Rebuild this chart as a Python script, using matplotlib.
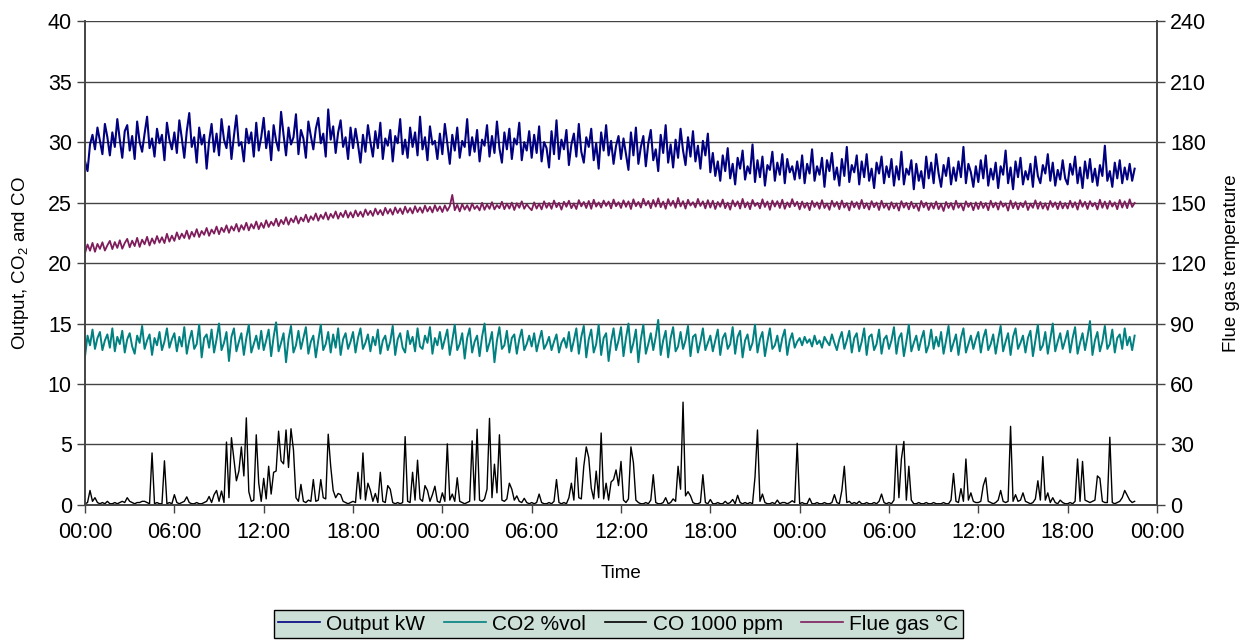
import matplotlib
matplotlib.use("Agg")
from matplotlib import pyplot as plt
import numpy as np

plt.rcParams['font.family'] = ['Liberation Sans', 'DejaVu Sans']
plt.rcParams['mathtext.fontset'] = 'custom'
plt.rcParams['mathtext.rm'] = 'Liberation Sans'
plt.rcParams['mathtext.it'] = 'Liberation Sans:italic'

# one logged value every 10 minutes, rows of 6 hours
SAMPLE_MIN = 10

output_kw = sum([
    [28.4, 27.6, 29.8, 30.6, 29.4, 31.2, 30.1, 29.0, 31.5, 30.4, 28.9, 30.8, 29.6, 31.9, 30.2, 28.7, 30.9, 31.4,
     29.3, 30.5, 28.6, 31.7, 30.0, 29.2, 30.7, 32.1, 29.5, 30.3, 28.8, 31.1, 29.9, 30.6, 28.5, 31.6, 30.2, 29.4],
    [30.8, 29.1, 31.8, 30.3, 28.7, 30.9, 32.4, 29.6, 30.4, 28.3, 31.2, 29.8, 30.6, 27.8, 30.1, 31.5, 29.2, 30.7,
     28.9, 31.9, 30.2, 29.5, 31.3, 28.6, 30.5, 32.2, 29.7, 30.0, 28.4, 31.1, 29.9, 30.8, 28.8, 31.6, 29.3, 30.4],
    [32.0, 29.5, 30.9, 28.5, 31.4, 30.1, 29.3, 32.5, 30.6, 28.9, 31.2, 29.8, 30.4, 32.3, 29.0, 31.0, 30.3, 28.7,
     31.7, 30.5, 29.4, 31.1, 32.0, 29.9, 30.7, 28.8, 32.7, 30.2, 31.3, 29.1, 30.8, 31.8, 29.6, 30.4, 28.6, 31.2],
    [29.5, 31.1, 29.8, 28.3, 30.6, 29.2, 31.4, 30.0, 28.8, 30.9, 29.5, 31.6, 28.6, 30.3, 29.7, 31.0, 28.4, 30.5,
     29.9, 31.9, 29.0, 30.2, 28.7, 31.2, 29.6, 30.8, 28.9, 32.1, 29.4, 30.4, 28.5, 31.3, 29.8, 30.1, 28.6, 30.7],
    [29.0, 31.5, 29.9, 28.2, 30.6, 29.3, 31.2, 28.7, 30.1, 29.6, 31.9, 28.9, 30.4, 29.2, 31.0, 28.4, 30.2, 29.7,
     31.4, 28.8, 30.5, 29.1, 31.7, 29.5, 28.3, 30.8, 29.4, 31.1, 28.6, 30.3, 29.8, 31.6, 28.5, 30.0, 29.3, 30.9],
    [28.7, 30.6, 29.1, 31.3, 28.4, 30.0, 29.5, 27.9, 30.9, 29.0, 31.8, 28.6, 30.2, 29.4, 31.0, 28.1, 29.8, 30.7,
     28.8, 31.5, 29.2, 28.3, 30.4, 29.6, 31.1, 28.5, 29.9, 27.8, 30.8, 29.3, 31.4, 28.9, 30.1, 28.2, 29.7, 30.5],
    [28.6, 30.3, 29.0, 27.7, 30.8, 28.9, 31.2, 28.2, 29.6, 30.5, 28.0, 29.9, 31.0, 28.5, 29.4, 27.6, 30.6, 29.1,
     31.4, 28.3, 29.8, 27.9, 30.2, 28.7, 31.1, 29.3, 28.1, 30.4, 28.8, 30.9, 28.4, 29.7, 27.8, 30.1, 28.9, 30.7],
    [27.5, 29.1, 27.2, 28.4, 26.8, 28.9, 27.6, 29.5, 27.0, 28.2, 26.5, 28.7, 27.8, 29.3, 26.9, 28.0, 27.4, 29.8,
     26.7, 28.5, 27.1, 28.8, 26.4, 28.1, 27.7, 29.2, 26.8, 28.3, 27.3, 29.0, 26.6, 28.6, 27.5, 28.0, 26.9, 28.4],
    [27.0, 28.9, 26.6, 28.2, 27.4, 29.4, 26.8, 28.0, 27.3, 28.7, 26.3, 28.5, 27.6, 29.1, 26.9, 27.9, 26.4, 28.6,
     27.2, 29.6, 26.7, 28.1, 27.5, 28.9, 26.5, 28.4, 27.1, 29.0, 26.8, 27.8, 26.2, 28.3, 27.4, 28.8, 26.6, 28.0],
    [27.1, 28.6, 26.4, 28.0, 26.9, 29.2, 26.5, 27.8, 27.3, 28.5, 26.1, 28.2, 26.8, 27.6, 26.2, 28.8, 27.0, 28.3,
     26.6, 29.0, 27.4, 26.3, 28.1, 27.2, 28.7, 26.5, 27.9, 26.8, 28.4, 27.1, 29.6, 26.6, 28.2, 27.5, 26.3, 28.0],
    [26.7, 28.5, 27.0, 28.9, 26.4, 27.8, 26.9, 28.3, 26.2, 28.0, 27.3, 29.3, 26.6, 27.9, 26.1, 28.4, 27.1, 28.7,
     26.5, 27.6, 26.9, 28.2, 26.3, 28.8, 27.2, 26.6, 28.1, 27.4, 29.0, 26.8, 28.3, 26.4, 27.7, 26.9, 28.5, 27.0],
    [26.5, 28.2, 27.3, 28.8, 26.6, 27.9, 26.2, 28.4, 27.0, 28.6, 26.7, 27.8, 26.4, 28.1, 27.2, 29.7, 26.8, 27.6,
     26.3, 28.3, 27.0, 28.5, 26.6, 27.9, 26.9, 28.2, 26.8, 27.8],
], [])

co2_vol = sum([
    [12.3, 14.0, 13.2, 14.5, 12.9, 13.8, 14.3, 12.8, 13.6, 14.1, 13.0, 14.6, 12.7, 13.9, 13.3, 14.4, 12.6, 13.7,
     14.2, 13.1, 12.5, 14.0, 13.4, 14.8, 12.9, 13.6, 14.1, 12.4, 13.8, 13.2, 14.3, 12.8, 13.5, 14.6, 13.0, 13.7],
    [14.2, 12.7, 13.9, 13.1, 14.7, 12.5, 13.6, 14.4, 12.9, 13.3, 14.9, 12.2, 13.8, 14.1, 13.0, 14.5, 12.6, 13.7,
     15.0, 12.8, 13.4, 14.3, 11.9, 13.9, 14.6, 12.7, 13.5, 14.2, 12.4, 13.8, 14.9, 12.6, 13.3, 14.0, 12.9, 14.4],
    [12.8, 13.6, 14.5, 12.3, 13.9, 15.1, 12.7, 13.4, 14.2, 11.8, 13.7, 14.8, 12.6, 13.2, 14.4, 12.9, 13.8, 14.7,
     12.5, 13.5, 14.0, 12.2, 13.6, 14.9, 12.8, 13.3, 14.3, 12.6, 14.1, 13.0, 14.6, 12.4, 13.7, 14.2, 12.9, 13.5],
    [14.3, 12.6, 13.8, 14.6, 12.9, 13.4, 14.1, 12.7, 13.9, 13.2, 14.5, 12.5, 13.6, 14.0, 12.8, 13.5, 14.8, 12.4,
     13.7, 14.2, 13.0, 12.6, 14.4, 13.3, 13.9, 12.7, 14.6, 13.1, 12.9, 14.0, 13.4, 14.7, 12.5, 13.8, 13.2, 14.3],
    [12.9, 13.7, 14.5, 12.4, 13.6, 14.9, 12.8, 13.3, 14.2, 12.1, 13.8, 14.6, 12.6, 13.5, 14.0, 12.3, 13.9, 15.0,
     12.7, 13.4, 14.3, 11.8, 13.6, 14.7, 12.9, 13.2, 14.4, 12.6, 13.8, 14.1, 12.5, 13.7, 14.5, 12.8, 13.3, 14.0],
    [13.1, 14.2, 12.7, 13.6, 14.4, 12.9, 13.3, 13.9, 12.8, 13.5, 14.1, 12.6, 13.4, 13.8, 13.0, 14.3, 12.7, 13.6,
     14.6, 12.5, 13.9, 14.8, 12.2, 13.7, 14.5, 12.6, 13.3, 14.9, 12.4, 13.8, 14.2, 11.9, 13.5, 14.6, 12.8, 13.6],
    [14.7, 12.3, 13.8, 15.0, 12.6, 13.4, 14.5, 11.8, 13.7, 14.9, 12.5, 13.3, 14.2, 12.8, 13.9, 15.3, 12.4, 13.6,
     14.4, 12.2, 13.8, 14.7, 12.7, 13.1, 14.3, 12.9, 13.6, 14.8, 12.3, 13.9, 14.1, 12.6, 13.5, 14.6, 12.8, 13.4],
    [14.0, 12.7, 13.6, 14.5, 12.4, 13.8, 14.2, 12.9, 13.3, 14.7, 12.5, 13.9, 14.4, 12.2, 13.6, 14.1, 12.8, 13.4,
     14.9, 12.6, 13.7, 14.3, 12.3, 13.5, 14.6, 12.9, 13.2, 14.0, 12.7, 13.8, 14.5, 12.4, 13.6, 14.2, 13.0, 13.5],
    [13.8, 13.2, 13.9, 13.4, 13.7, 13.1, 14.0, 13.3, 13.6, 13.0, 13.9, 13.5, 13.2, 14.1, 13.4, 12.8, 13.7, 14.3,
     12.9, 13.6, 14.4, 12.6, 13.8, 14.2, 12.7, 13.5, 14.6, 12.4, 13.9, 14.1, 12.8, 13.3, 14.5, 12.5, 13.7, 14.0],
    [12.9, 13.6, 14.7, 12.5, 13.8, 14.2, 12.3, 13.5, 14.9, 12.7, 13.4, 14.0, 12.8, 13.7, 14.4, 12.6, 13.2, 14.5,
     12.9, 13.9, 13.1, 14.3, 12.5, 13.6, 14.8, 12.7, 13.4, 14.1, 12.4, 13.8, 14.6, 12.6, 13.3, 14.0, 12.9, 13.7],
    [14.3, 12.6, 13.8, 14.5, 12.8, 13.3, 14.1, 12.5, 13.7, 14.8, 12.7, 13.5, 14.2, 12.4, 13.9, 14.6, 12.9, 13.4,
     14.0, 12.6, 13.8, 14.4, 12.3, 13.6, 14.9, 12.8, 13.2, 14.3, 12.5, 13.7, 15.0, 12.7, 13.5, 14.2, 12.9, 13.6],
    [14.4, 12.6, 13.8, 14.7, 12.5, 13.4, 14.2, 12.8, 13.9, 15.2, 12.4, 13.6, 14.3, 12.7, 13.5, 14.8, 12.9, 13.3,
     14.5, 12.6, 13.8, 14.1, 12.9, 14.6, 13.2, 13.9, 12.8, 14.0],
], [])

co_1000ppm = sum([
    [0.1, 0.2, 1.2, 0.3, 0.6, 0.2, 0.1, 0.2, 0.1, 0.3, 0.1, 0.1, 0.2, 0.1, 0.2, 0.3, 0.2, 0.6,
     0.3, 0.2, 0.1, 0.2, 0.2, 0.3, 0.3, 0.2, 0.1, 4.3, 0.1, 0.2, 0.1, 0.1, 3.65, 0.1, 0.2, 0.1],
    [0.85, 0.2, 0.1, 0.2, 0.3, 0.67, 0.2, 0.1, 0.1, 0.2, 0.1, 0.1, 0.2, 0.3, 0.7, 0.2, 0.85, 1.2,
     0.3, 1.15, 0.2, 5.2, 0.6, 5.56, 3.8, 2.0, 2.8, 4.8, 2.4, 7.2, 1.1, 0.3, 0.4, 5.8, 1.8, 0.3],
    [2.2, 0.5, 3.2, 0.9, 2.7, 2.8, 6.1, 3.65, 3.4, 6.2, 3.1, 6.3, 4.55, 0.6, 0.3, 1.7, 0.3, 0.2,
     0.4, 0.3, 2.1, 0.3, 0.4, 2.1, 0.6, 0.5, 5.85, 3.2, 1.2, 0.6, 0.95, 0.85, 0.3, 0.2, 0.1, 0.2],
    [0.3, 0.2, 2.7, 0.5, 4.3, 0.4, 1.8, 1.2, 0.3, 0.95, 0.2, 2.7, 0.3, 0.2, 1.6, 1.3, 0.2, 0.1,
     0.2, 0.1, 0.2, 5.65, 0.3, 0.2, 2.7, 0.4, 3.7, 0.5, 0.3, 1.6, 1.2, 0.3, 0.85, 1.55, 0.3, 0.2],
    [1.0, 0.3, 5.05, 0.4, 0.9, 0.3, 2.25, 0.3, 0.2, 0.1, 0.2, 0.3, 5.3, 0.4, 6.26, 0.4, 0.3, 0.5,
     1.3, 7.16, 0.6, 3.37, 1.0, 5.8, 0.4, 0.3, 0.5, 1.8, 1.3, 0.4, 0.75, 0.3, 0.2, 0.55, 0.2, 0.1],
    [0.2, 0.1, 0.2, 0.9, 0.2, 0.1, 0.1, 0.2, 0.1, 0.3, 2.1, 0.2, 0.1, 0.2, 0.1, 0.6, 1.8, 0.4,
     3.9, 0.6, 0.5, 3.2, 4.8, 3.9, 1.4, 0.5, 2.8, 0.6, 5.95, 0.5, 1.8, 0.4, 1.9, 2.1, 2.9, 1.6],
    [3.6, 0.4, 0.2, 0.5, 4.8, 3.5, 0.4, 0.2, 0.1, 0.1, 0.2, 0.1, 0.4, 2.5, 0.2, 0.1, 0.1, 0.2,
     0.6, 0.1, 0.2, 0.5, 0.3, 3.2, 1.3, 8.5, 0.75, 1.1, 0.75, 0.2, 0.1, 0.1, 0.2, 2.5, 0.2, 0.1],
    [0.45, 0.1, 0.1, 0.2, 0.1, 0.1, 0.3, 0.1, 0.2, 0.45, 0.1, 0.8, 0.2, 0.1, 0.2, 0.1, 0.2, 0.1,
     2.3, 6.2, 0.3, 0.9, 0.2, 0.1, 0.1, 0.2, 0.1, 0.4, 0.1, 0.2, 0.2, 0.1, 0.2, 0.35, 0.2, 5.1],
    [0.1, 0.2, 0.1, 0.1, 0.55, 0.1, 0.1, 0.2, 0.1, 0.1, 0.2, 0.1, 0.1, 0.2, 0.85, 0.2, 0.1, 1.2,
     3.2, 0.2, 0.3, 0.1, 0.2, 0.1, 0.3, 0.1, 0.1, 0.2, 0.1, 0.1, 0.2, 0.1, 0.3, 0.9, 0.2, 0.1],
    [0.2, 0.1, 0.4, 4.9, 0.6, 3.8, 5.25, 0.4, 3.2, 0.4, 0.1, 0.1, 0.2, 0.1, 0.1, 0.2, 0.1, 0.1,
     0.2, 0.1, 0.1, 0.1, 0.2, 0.1, 0.1, 0.4, 2.6, 0.3, 0.2, 1.35, 0.3, 3.8, 0.4, 1.0, 0.3, 0.2],
    [0.2, 0.3, 1.6, 2.25, 0.3, 0.2, 0.1, 0.2, 0.4, 1.2, 0.3, 0.2, 0.3, 6.5, 0.3, 0.85, 0.3, 0.4,
     1.0, 0.3, 0.2, 0.1, 0.2, 0.5, 2.0, 0.4, 4.0, 0.4, 1.0, 0.2, 0.6, 0.2, 0.1, 0.4, 0.2, 0.1],
    [0.1, 0.2, 0.1, 0.3, 3.8, 0.3, 3.6, 0.4, 0.3, 0.2, 0.3, 0.4, 2.4, 2.2, 0.3, 0.2, 0.2, 5.6,
     0.2, 0.1, 0.2, 0.3, 0.6, 1.2, 0.8, 0.4, 0.2, 0.3],
], [])

flue_gas_c = sum([
    [125.0, 129.2, 126.1, 130.0, 125.6, 129.5, 127.0, 130.3, 126.2, 128.8, 131.0, 126.9, 130.4, 127.5, 131.3, 127.1,
     129.9, 132.0, 127.8, 131.1, 128.4, 132.5, 128.0, 131.6, 129.3, 133.0, 128.7, 132.2, 129.6, 133.4, 130.1, 132.8,
     129.9, 134.5, 130.6, 133.6],
    [131.0, 135.2, 131.8, 134.6, 132.4, 136.1, 132.0, 135.5, 133.1, 136.8, 132.9, 135.9, 134.0, 137.4, 133.5, 136.6,
     134.6, 138.1, 134.3, 137.5, 135.4, 138.7, 135.0, 138.2, 136.1, 139.4, 135.6, 138.8, 136.5, 140.0, 136.2, 139.3,
     137.1, 140.6, 136.8, 139.9],
    [137.4, 141.2, 137.9, 140.5, 138.6, 142.0, 138.3, 141.4, 139.3, 142.7, 139.0, 142.1, 140.2, 143.3, 139.6, 142.6,
     140.7, 144.0, 140.3, 143.2, 141.4, 144.6, 141.0, 143.9, 141.9, 145.1, 141.5, 144.4, 142.4, 145.6, 142.0, 144.9,
     142.8, 146.0, 142.5, 145.2],
    [142.6, 146.1, 143.2, 145.5, 142.9, 146.6, 143.8, 145.9, 143.4, 147.0, 144.1, 146.3, 143.7, 147.4, 144.5, 146.8,
     144.0, 147.6, 144.8, 147.1, 144.3, 148.0, 145.0, 147.3, 144.6, 148.2, 145.3, 147.6, 144.9, 148.5, 145.6, 147.9,
     145.1, 148.7, 145.8, 148.1],
    [145.3, 148.6, 145.9, 148.2, 153.8, 146.2, 148.9, 145.6, 149.3, 146.5, 148.7, 145.9, 149.6, 146.8, 148.4, 146.1,
     149.9, 146.4, 149.1, 146.9, 150.2, 146.6, 148.8, 147.2, 150.4, 146.7, 149.5, 147.0, 150.0, 146.3, 149.7, 147.4,
     150.6, 146.9, 149.2, 147.5],
    [146.2, 150.1, 147.0, 149.5, 146.6, 150.6, 147.4, 149.8, 146.9, 151.0, 147.7, 149.9, 146.5, 150.4, 147.9, 150.9,
     147.2, 149.6, 146.8, 151.2, 148.1, 150.3, 147.3, 150.8, 146.9, 151.4, 148.0, 150.1, 147.5, 151.0, 148.3, 150.5,
     147.1, 151.5, 148.2, 150.2],
    [147.3, 151.1, 147.9, 150.6, 146.8, 151.6, 148.2, 150.3, 147.5, 151.9, 148.6, 150.8, 147.2, 151.3, 148.0, 152.1,
     147.7, 150.5, 146.9, 151.7, 148.4, 150.9, 147.4, 152.3, 148.1, 150.7, 147.0, 151.4, 148.5, 150.2, 147.6, 151.8,
     148.3, 150.6, 147.1, 151.2],
    [147.5, 150.9, 146.8, 150.3, 147.9, 151.5, 147.2, 150.0, 146.5, 151.1, 148.1, 150.6, 147.0, 151.8, 147.6, 150.2,
     146.7, 151.3, 148.3, 149.9, 147.1, 151.6, 147.8, 150.5, 146.4, 151.0, 148.0, 150.7, 147.3, 151.4, 146.9, 150.1,
     147.7, 151.7, 148.2, 150.4],
    [146.6, 150.5, 147.4, 149.9, 146.2, 150.8, 147.8, 150.1, 146.9, 151.2, 147.3, 149.6, 146.4, 150.9, 147.9, 150.3,
     146.7, 151.0, 147.5, 149.8, 146.1, 150.6, 147.6, 150.2, 146.8, 151.3, 147.2, 149.7, 146.5, 150.7, 147.7, 150.0,
     146.3, 150.9, 147.4, 149.5],
    [146.4, 150.2, 147.1, 149.6, 146.0, 150.7, 147.5, 149.9, 146.6, 150.4, 147.2, 149.3, 145.9, 150.8, 147.6, 150.0,
     146.3, 149.7, 147.0, 150.5, 146.7, 149.4, 145.8, 150.3, 147.3, 149.8, 146.5, 150.9, 147.4, 149.5, 146.1, 150.6,
     147.8, 149.9, 146.2, 150.1],
    [146.8, 150.4, 147.3, 149.8, 146.2, 150.9, 147.6, 150.0, 146.5, 150.6, 147.9, 149.6, 146.0, 151.0, 147.2, 150.2,
     146.6, 149.9, 147.7, 150.7, 146.3, 149.5, 147.4, 151.1, 146.9, 150.3, 147.0, 149.7, 146.4, 150.8, 147.8, 150.1,
     146.7, 150.5, 147.1, 149.8],
    [147.0, 150.9, 147.6, 150.2, 146.5, 151.2, 147.9, 150.4, 146.8, 150.7, 148.1, 149.9, 146.6, 151.4, 147.4, 150.5,
     146.9, 150.8, 148.0, 150.1, 146.7, 151.3, 147.5, 150.6, 147.2, 151.6, 147.8, 149.8],
], [])

time_labels = ["00:00", "06:00", "12:00", "18:00", "00:00", "06:00", "12:00",
               "18:00", "00:00", "06:00", "12:00", "18:00", "00:00"]

navy = "#000080"
teal = "#008080"
plum = "#7f1c5c"
grid_col = "#444444"


def hours(series):
    return np.arange(len(series)) * SAMPLE_MIN / 60.0


fig = plt.figure(figsize=(12.47, 6.4), dpi=100)
ax = fig.add_axes([0.0682, 0.211, 0.8596, 0.756])
ax2 = ax.twinx()

l1, = ax.plot(hours(output_kw), output_kw, color=navy, lw=1.5, label="Output kW")
l2, = ax.plot(hours(co2_vol), co2_vol, color=teal, lw=1.4, label="CO2 %vol")
l3, = ax.plot(hours(co_1000ppm), co_1000ppm, color="black", lw=1.0, label="CO 1000 ppm")
l4, = ax2.plot(hours(flue_gas_c), flue_gas_c, color=plum, lw=1.3, label="Flue gas °C")

ax.set_xlim(0, 72)
ax.set_ylim(0, 40)
ax2.set_ylim(0, 240)
ax.set_yticks(np.arange(0, 41, 5))
ax2.set_yticks(np.arange(0, 241, 30))
ax.set_xticks(np.arange(0, 73, 6))
ax.set_xticklabels(time_labels)

ax.grid(axis="y", color=grid_col, lw=1.0)
ax.set_axisbelow(True)
for a in (ax, ax2):
    a.tick_params(labelsize=15.5, length=6, width=1, color=grid_col, direction="out")
    for s in a.spines.values():
        s.set_color(grid_col)
        s.set_linewidth(1.2)
    a.spines["top"].set_visible(False)
ax.tick_params(axis="x", pad=6)

ax.set_xlabel("Time", fontsize=13.5, labelpad=16)
ax.set_ylabel("Output, CO$_2$ and CO", fontsize=13.5, labelpad=12)
ax2.set_ylabel("Flue gas temperature", fontsize=13.5, labelpad=12)

leg = fig.legend(handles=[l1, l2, l3, l4], loc="center", bbox_to_anchor=(0.496, 0.025), ncol=4,
                 fontsize=15, frameon=True, fancybox=False, handlelength=2.0, handletextpad=0.3,
                 columnspacing=0.9, borderpad=0.2, borderaxespad=0)
leg.get_frame().set_facecolor("#cce0d8")
leg.get_frame().set_edgecolor("black")
leg.get_frame().set_alpha(1)
leg.get_frame().set_linewidth(1.0)
for h in leg.get_lines():
    h.set_linewidth(1.2)

fig.savefig("out.png", dpi=100)
